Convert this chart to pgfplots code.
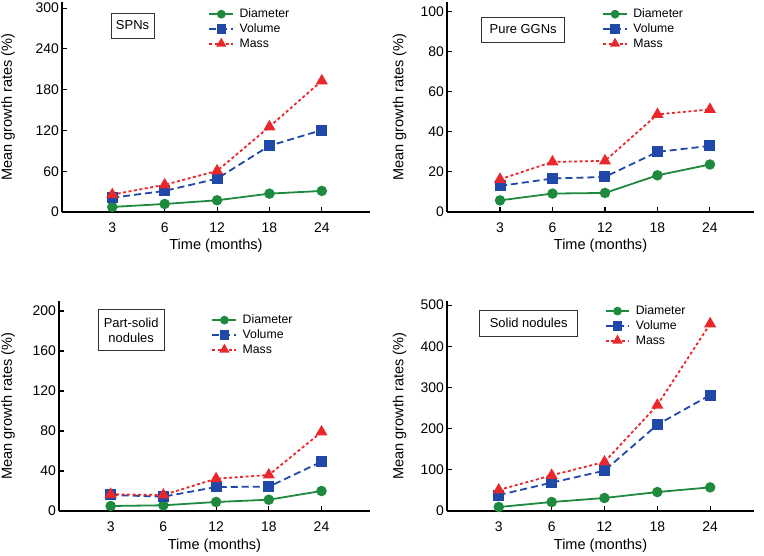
\documentclass[border=0pt]{standalone}
\usepackage{pgfplots}
\pgfplotsset{compat=1.18}
\usepackage{fontspec}
\setmainfont{Liberation Sans}
\definecolor{cgreen}{HTML}{1E8A3E}
\definecolor{cblue}{HTML}{1F48A8}
\definecolor{cred}{HTML}{E8282B}
\tikzset{tbox/.style={draw=black!80, line width=0.9bp, font=\fontsize{13}{15}\selectfont, align=center, inner sep=0pt}}
\pgfplotsset{
  gr/.style={
    scale only axis, height=210bp,
    axis x line*=bottom, axis y line*=left,
    axis line style={line width=1.8bp, -},
    tick style={line width=1.1bp, black},
    tick align=inside, major tick length=5bp,
    /pgf/number format/assume math mode=true,
    tick label style={font=\fontsize{14}{16}\selectfont},
    xtick={1,2,3,4,5}, xticklabels={3,6,12,18,24},
    xticklabel style={anchor=center, yshift=-16bp},
    yticklabel style={anchor=east, inner sep=1bp, xshift=-2bp},
    ymin=0,
    xlabel={Time (months)}, ylabel={Mean growth rates (\%)},
    label style={font=\fontsize{14.6}{16}\selectfont},
    ylabel style={rotate=0, anchor=center},
    xlabel style={anchor=center},
    legend cell align=left,
    legend style={draw=none, fill=none, font=\fontsize{12.3}{13}\selectfont,
      inner sep=0pt, row sep=3.5bp, column sep=5bp, anchor=north west, nodes={inner sep=0.5bp}},
    legend image code/.code={\draw[mark repeat=2,mark phase=2, every mark/.append style={scale=0.8}] plot coordinates {(0cm,0cm) (0.42cm,0cm) (0.84cm,0cm)};},
    clip=false,
  },
  dia/.style={cgreen, line width=1.8bp, solid, mark=*, mark size=4.3bp, mark options={solid, fill=cgreen}},
  vol/.style={cblue, line width=1.8bp, dash pattern=on 7bp off 4bp, mark=square*, mark size=4.6bp, mark options={solid, fill=cblue}},
  mas/.style={cred, line width=1.8bp, dash pattern=on 3bp off 2.5bp, mark=triangle*, mark size=5.2bp, mark options={solid, fill=cred}},
}
\begin{document}
\begin{tikzpicture}[x=1bp,y=1bp]
\path[use as bounding box] (0,0) rectangle (764,556);
% Panel 1: SPNs
\begin{axis}[gr, at={(62bp,344bp)}, anchor=south west, width=308bp,
  xmin=0.04, xmax=5.92, ymax=309, ytick={0,60,120,180,240,300},
  xlabel style={at={(axis description cs:0.5,-0.16)}},
  ylabel style={at={(axis description cs:-0.175,0.5)}},
  legend style={at={(axis description cs:0.475,0.97)}}]
\addplot[dia] coordinates {(1,7.4) (2,11.8) (3,17.2) (4,27) (5,31)};
\addplot[vol] coordinates {(1,21) (2,31) (3,49) (4,97.4) (5,120.5)};
\addplot[mas] coordinates {(1,25.6) (2,40) (3,60.5) (4,125.4) (5,193)};
\legend{Diameter, Volume, Mass}
\node[tbox, minimum width=43bp, minimum height=25bp] at (rel axis cs:0.229,0.888) {SPNs};
\end{axis}
% Panel 2: Pure GGNs
\begin{axis}[gr, at={(447bp,344bp)}, anchor=south west, width=307bp,
  xmin=-0.01, xmax=5.84, ymax=104.8, ytick={0,20,40,60,80,100},
  xlabel style={at={(axis description cs:0.5,-0.16)}},
  ylabel style={at={(axis description cs:-0.154,0.5)}},
  legend style={at={(axis description cs:0.505,0.97)}}]
\addplot[dia] coordinates {(1,5.8) (2,9.2) (3,9.5) (4,18.3) (5,23.7)};
\addplot[vol] coordinates {(1,13) (2,16.7) (3,17.5) (4,30) (5,33)};
\addplot[mas] coordinates {(1,16.3) (2,25) (3,25.5) (4,48.7) (5,51.2)};
\legend{Diameter, Volume, Mass}
\node[tbox, minimum width=83bp, minimum height=25bp] at (rel axis cs:0.248,0.869) {Pure GGNs};
\end{axis}
% Panel 3: Part-solid nodules
\begin{axis}[gr, at={(59bp,45bp)}, anchor=south west, width=311bp,
  xmin=0.02, xmax=5.92, ymax=210, ytick={0,40,80,120,160,200},
  xlabel style={at={(axis description cs:0.5,-0.165)}},
  ylabel style={at={(axis description cs:-0.164,0.5)}},
  legend style={at={(axis description cs:0.49,0.937)}}]
\addplot[dia] coordinates {(1,5) (2,5.7) (3,9) (4,11.3) (5,20)};
\addplot[vol] coordinates {(1,16) (2,14.3) (3,24) (4,24.3) (5,49.3)};
\addplot[mas] coordinates {(1,16.7) (2,16) (3,32.3) (4,36) (5,79)};
\legend{Diameter, Volume, Mass}
\node[tbox, minimum width=66bp, minimum height=41bp] at (rel axis cs:0.232,0.86) {Part-solid\\nodules};
\end{axis}
% Panel 4: Solid nodules
\begin{axis}[gr, at={(447bp,45bp)}, anchor=south west, width=307bp,
  xmin=0.02, xmax=5.83, ymax=510, ytick={0,100,200,300,400,500},
  xlabel style={at={(axis description cs:0.5,-0.165)}},
  ylabel style={at={(axis description cs:-0.154,0.5)}},
  legend style={at={(axis description cs:0.513,0.98)}}]
\addplot[dia] coordinates {(1,9.7) (2,21.8) (3,31.6) (4,46) (5,57.4)};
\addplot[vol] coordinates {(1,38.8) (2,68.8) (3,97.9) (4,209.5) (5,281.6)};
\addplot[mas] coordinates {(1,51) (2,86.6) (3,119) (4,257) (5,454.7)};
\legend{Diameter, Volume, Mass}
\node[tbox, minimum width=98bp, minimum height=26bp] at (rel axis cs:0.266,0.895) {Solid nodules};
\end{axis}
\end{tikzpicture}
\end{document}
